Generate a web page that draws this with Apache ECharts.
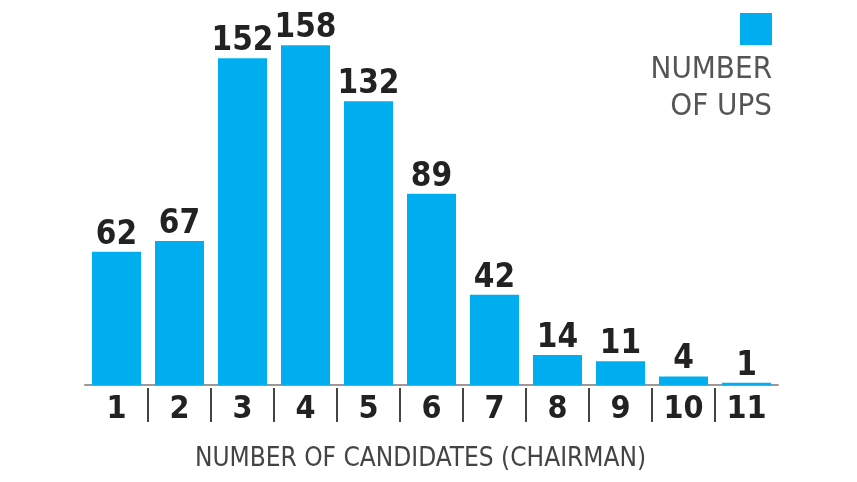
<!DOCTYPE html>
<html>
<head>
<meta charset="utf-8">
<script src="https://cdn.jsdelivr.net/npm/echarts@6/dist/echarts.min.js"></script>
<style>
html,body{margin:0;padding:0;background:#fff;}
#chart{width:857px;height:482px;}
</style>
</head>
<body>
<div id="chart"></div>
<script>
const categories = ['1','2','3','4','5','6','7','8','9','10','11'];
const upsCounts = [62, 67, 152, 158, 132, 89, 42, 14, 11, 4, 1];
const seriesName = 'NUMBER OF UPS';
const legendText = 'NUMBER\nOF UPS';
const axisTitle = 'NUMBER OF CANDIDATES (CHAIRMAN)';
const boundarySlots = new Array(categories.length + 1).fill('');

const FONT = '"DejaVu Sans Condensed", "Liberation Sans Narrow", sans-serif';
const BLUE = '#00AEEF';

const chart = echarts.init(document.getElementById('chart'));
chart.setOption({
  animation: false,
  backgroundColor: '#fff',
  grid: { left: 85, right: 79, top: 41, bottom: 97, containLabel: false },
  graphic: [{
    type: 'text',
    right: 85,
    top: 51,
    style: {
      text: legendText,
      textAlign: 'right',
      fontFamily: FONT,
      fontSize: 31,
      lineHeight: 37,
      fill: '#555'
    }
  }],
  legend: {
    data: [seriesName],
    right: 80,
    top: 8,
    icon: 'rect',
    itemWidth: 32,
    itemHeight: 32,
    formatter: () => '',
    selectedMode: false
  },
  xAxis: [
    {
      type: 'category',
      data: categories,
      offset: 3,
      axisLine: { show: true, lineStyle: { color: '#999', width: 2 } },
      axisTick: { show: false },
      axisLabel: { margin: 6, fontFamily: FONT, fontSize: 32, fontWeight: 'bold', color: '#222' },
      name: axisTitle,
      nameLocation: 'middle',
      nameGap: 58,
      nameTextStyle: { fontFamily: FONT, fontSize: 26, color: '#444', padding: [0, 22, 0, 0] }
    },
    {
      type: 'category',
      data: boundarySlots,
      boundaryGap: false,
      position: 'bottom',
      offset: 3,
      axisLine: { show: false },
      axisTick: {
        show: true,
        length: 34,
        interval: (i) => i > 0 && i < categories.length,
        lineStyle: { color: '#444', width: 2 }
      },
      axisLabel: { show: false }
    }
  ],
  yAxis: { type: 'value', min: 0, max: 160, show: false },
  series: [{
    name: seriesName,
    type: 'bar',
    data: upsCounts,
    barWidth: 49,
    itemStyle: { color: BLUE },
    label: {
      show: true,
      position: 'top',
      distance: 0,
      fontFamily: FONT,
      fontSize: 33,
      fontWeight: 'bold',
      color: '#222'
    }
  }]
});
</script>
</body>
</html>
